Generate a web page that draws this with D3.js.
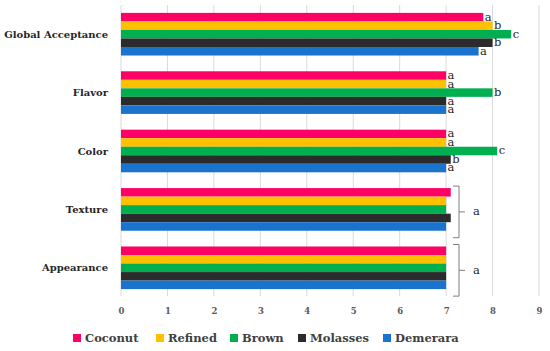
<!DOCTYPE html>
<html>
<head>
<meta charset="utf-8">
<script src="https://cdn.jsdelivr.net/npm/d3@7"></script>
<style>
  body { margin: 0; background: #fff; }
</style>
</head>
<body>
<div id="chart"></div>
<script>
var svgWidth = 550;
var svgHeight = 351;
var serif = "'DejaVu Serif', serif";

// categories top to bottom
var attributes = ["Global Acceptance", "Flavor", "Color", "Texture", "Appearance"];
var sugars = ["Coconut", "Refined", "Brown", "Molasses", "Demerara"];
var colors = ["#FF0066", "#FFC000", "#00B050", "#2B2B2B", "#1A73CC"];

// scores per sugar, same order as attributes
var coconut  = [7.8, 7.0, 7.0, 7.1, 7.0];
var refined  = [8.0, 7.0, 7.0, 7.0, 7.0];
var brown    = [8.4, 8.0, 8.1, 7.0, 7.0];
var molasses = [8.0, 7.0, 7.1, 7.1, 7.0];
var demerara = [7.7, 7.0, 7.0, 7.0, 7.0];

// significance letters (null = shown as a bracket for the whole group)
var letters = [
  ["a", "b", "c", "b", "a"],
  ["a", "a", "b", "a", "a"],
  ["a", "a", "c", "b", "a"],
  null,
  null
];
var groupLetters = [null, null, null, "a", "a"];

var xTicks = [0, 1, 2, 3, 4, 5, 6, 7, 8, 9];

var seriesValues = [coconut, refined, brown, molasses, demerara];

var svg = d3.select("#chart")
  .append("svg")
  .attr("width", svgWidth)
  .attr("height", svgHeight)
  .attr("font-family", serif);

var xScale = d3.scaleLinear()
  .domain([0, 9])
  .range([121, 539]);

var yScale = d3.scaleBand()
  .domain(attributes)
  .range([5, 297])
  .paddingInner(0.27)
  .paddingOuter(0.135);

var ySub = d3.scaleBand()
  .domain(sugars)
  .range([0, yScale.bandwidth()]);

// gridlines
svg.append("g")
  .selectAll("line")
  .data(xTicks)
  .enter()
  .append("line")
  .attr("x1", d => xScale(d))
  .attr("x2", d => xScale(d))
  .attr("y1", 5)
  .attr("y2", 296)
  .attr("stroke", "#d9d9d9")
  .attr("stroke-width", 1);

// x axis labels
var bottomAxis = d3.axisBottom(xScale)
  .tickValues(xTicks)
  .tickSize(0)
  .tickPadding(0);

var axisG = svg.append("g")
  .attr("transform", "translate(0, 308)")
  .call(bottomAxis)
  .attr("font-family", serif);
axisG.select(".domain").remove();
axisG.selectAll("text")
  .attr("font-size", 8.5)
  .attr("font-weight", "bold")
  .attr("fill", "#595959");

// category labels
svg.append("g")
  .selectAll("text")
  .data(attributes)
  .enter()
  .append("text")
  .attr("x", 108)
  .attr("y", d => yScale(d) + yScale.bandwidth() / 2)
  .attr("dy", "0.35em")
  .attr("text-anchor", "end")
  .attr("font-size", 10)
  .attr("font-weight", "bold")
  .attr("fill", "#262626")
  .text(d => d);

// bars
var groups = svg.append("g")
  .selectAll("g")
  .data(attributes)
  .enter()
  .append("g")
  .attr("transform", d => `translate(0, ${yScale(d)})`);

groups.each(function(attr, i) {
  var g = d3.select(this);
  sugars.forEach(function(s, j) {
    var v = seriesValues[j][i];
    g.append("rect")
      .attr("x", xScale(0))
      .attr("y", ySub(s))
      .attr("width", xScale(v) - xScale(0))
      .attr("height", ySub.bandwidth())
      .attr("fill", colors[j]);
    if (letters[i]) {
      g.append("text")
        .attr("x", xScale(v) + 1.5)
        .attr("y", ySub(s) + ySub.bandwidth() / 2)
        .attr("dy", "0.3em")
        .attr("font-size", 11.5)
        .attr("fill", "#262626")
        .text(letters[i][j]);
    }
  });
  if (groupLetters[i]) {
    var top = -2;
    var bot = yScale.bandwidth() + 7;
    var mid = (top + bot) / 2;
    var bx = 459;
    g.append("path")
      .attr("d", `M${bx - 6},${top} L${bx},${top} L${bx},${bot} L${bx - 6},${bot} M${bx},${mid} L${bx + 6},${mid}`)
      .attr("fill", "none")
      .attr("stroke", "#7f7f7f")
      .attr("stroke-width", 1);
    g.append("text")
      .attr("x", 473)
      .attr("y", mid)
      .attr("dy", "0.3em")
      .attr("font-size", 11.5)
      .attr("fill", "#262626")
      .text(groupLetters[i]);
  }
});

// legend
var legendX = [73, 156, 230, 298, 383];
var legend = svg.append("g")
  .selectAll("g")
  .data(sugars)
  .enter()
  .append("g")
  .attr("transform", (d, i) => `translate(${legendX[i]}, 338)`);

legend.append("rect")
  .attr("x", 0)
  .attr("y", -4)
  .attr("width", 8)
  .attr("height", 8)
  .attr("fill", (d, i) => colors[i]);

legend.append("text")
  .attr("x", 12)
  .attr("y", 0)
  .attr("dy", "0.35em")
  .attr("font-size", 11.5)
  .attr("font-weight", "bold")
  .attr("fill", "#404040")
  .text(d => d);
</script>
</body>
</html>
